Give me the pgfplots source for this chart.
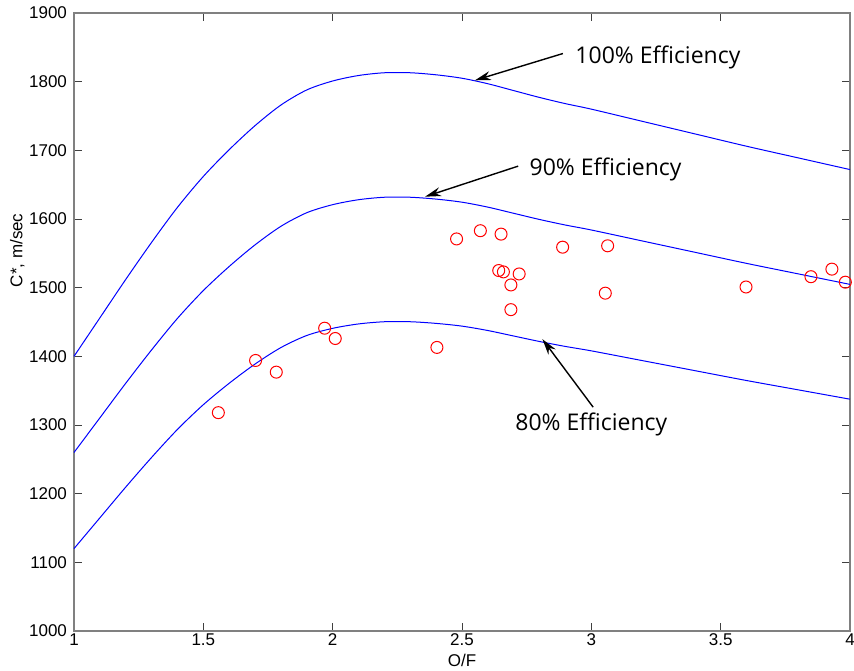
\documentclass[border=0pt]{standalone}
\usepackage{fontspec}
\setmainfont{Liberation Sans}
\newfontfamily\annfont{Open Sans}
\usepackage{pgfplots}
\pgfplotsset{compat=1.18}
\usepackage{pgfplotstable}
\usetikzlibrary{arrows.meta}

% Theoretical characteristic velocity against mixture ratio,
% at 100 %, 90 % and 80 % combustion efficiency
\pgfplotstableread{
of    eta100  eta90   eta80
1.0   1400    1260.0  1120.0
1.1   1456    1310.4  1164.8
1.2   1512    1360.8  1209.6
1.3   1566    1409.4  1252.8
1.4   1617    1455.3  1293.6
1.5   1662    1495.8  1329.6
1.6   1701    1530.9  1360.8
1.7   1736    1562.4  1388.8
1.8   1766    1589.4  1412.8
1.9   1788    1609.2  1430.4
2.0   1801    1620.9  1440.8
2.1   1809    1628.1  1447.2
2.2   1813    1631.7  1450.4
2.3   1813    1631.7  1450.4
2.4   1810    1629.0  1448.0
2.5   1805    1624.5  1444.0
2.6   1797    1617.3  1437.6
2.7   1787    1608.3  1429.6
2.8   1777    1599.3  1421.6
2.9   1768    1591.2  1414.4
3.0   1760    1584.0  1408.0
3.2   1742    1567.8  1393.6
3.4   1724    1551.6  1379.2
3.6   1706    1535.4  1364.8
3.8   1689    1520.1  1351.2
4.0   1672    1504.8  1337.6
}\cstartheory

% Measured firings
\pgfplotstableread{
of     cstar
1.558  1318
1.702  1394
1.782  1377
1.969  1441
2.010  1426
2.403  1413
2.479  1571
2.571  1583
2.651  1578
2.642  1525
2.660  1523
2.721  1520
2.689  1504
2.689  1468
2.889  1559
3.063  1561
3.054  1492
3.598  1501
3.849  1516
3.930  1527
3.982  1508
}\cstarmeasured

\begin{document}
\begin{tikzpicture}
\useasboundingbox (-37pt,-19.5pt) rectangle (390pt,315.5pt);
\begin{axis}[
  scale only axis,
  width=388pt, height=309pt,
  xmin=1, xmax=4, ymin=1000, ymax=1900,
  xtick={1,1.5,2,2.5,3,3.5,4},
  ytick={1000,1100,...,1900},
  tick align=inside,
  major tick length=4pt,
  axis line style={black!50, line width=0.6pt},
  tick style={black!75, line width=0.5pt},
  ticklabel style={font=\fontsize{8.5}{10}\selectfont},
  xticklabel style={inner sep=1pt},
  /pgf/number format/assume math mode=true,
  /pgf/number format/1000 sep={},
  xlabel={O/F},
  ylabel={C*, m/sec},
  every axis x label/.style={at={(axis description cs:0.5,-0.047)}, anchor=center, font=\fontsize{8.5}{10}\selectfont},
  every axis y label/.style={at={(axis description cs:-0.073,0.616)}, anchor=center, rotate=90, font=\fontsize{8.5}{10}\selectfont},
  clip=false,
]
\addplot[blue, line width=0.5pt, smooth] table[x=of, y=eta100] {\cstartheory};
\addplot[blue, line width=0.5pt, smooth] table[x=of, y=eta90] {\cstartheory};
\addplot[blue, line width=0.5pt, smooth] table[x=of, y=eta80] {\cstartheory};
\addplot[only marks, mark=o, mark size=3pt, red, mark options={line width=0.5pt}] table[x=of, y=cstar] {\cstarmeasured};

\draw[-{Stealth[length=8pt,width=4.5pt]}, line width=0.7pt] (axis cs:2.89,1841) -- (axis cs:2.55,1802);
\draw[-{Stealth[length=8pt,width=4.5pt]}, line width=0.7pt] (axis cs:2.717,1677) -- (axis cs:2.357,1632.5);
\draw[-{Stealth[length=8pt,width=4.5pt]}, line width=0.7pt] (axis cs:3.007,1326) -- (axis cs:2.811,1425);

\node[anchor=base west, inner sep=0pt, font=\annfont\fontsize{11.5}{13}\selectfont] at (axis cs:2.937,1826.7) {100\% Efficiency};
\node[anchor=base west, inner sep=0pt, font=\annfont\fontsize{11.5}{13}\selectfont] at (axis cs:2.760,1664) {90\% Efficiency};
\node[anchor=base west, inner sep=0pt, font=\annfont\fontsize{11.5}{13}\selectfont] at (axis cs:2.705,1292.7) {80\% Efficiency};
\end{axis}
\end{tikzpicture}
\end{document}
